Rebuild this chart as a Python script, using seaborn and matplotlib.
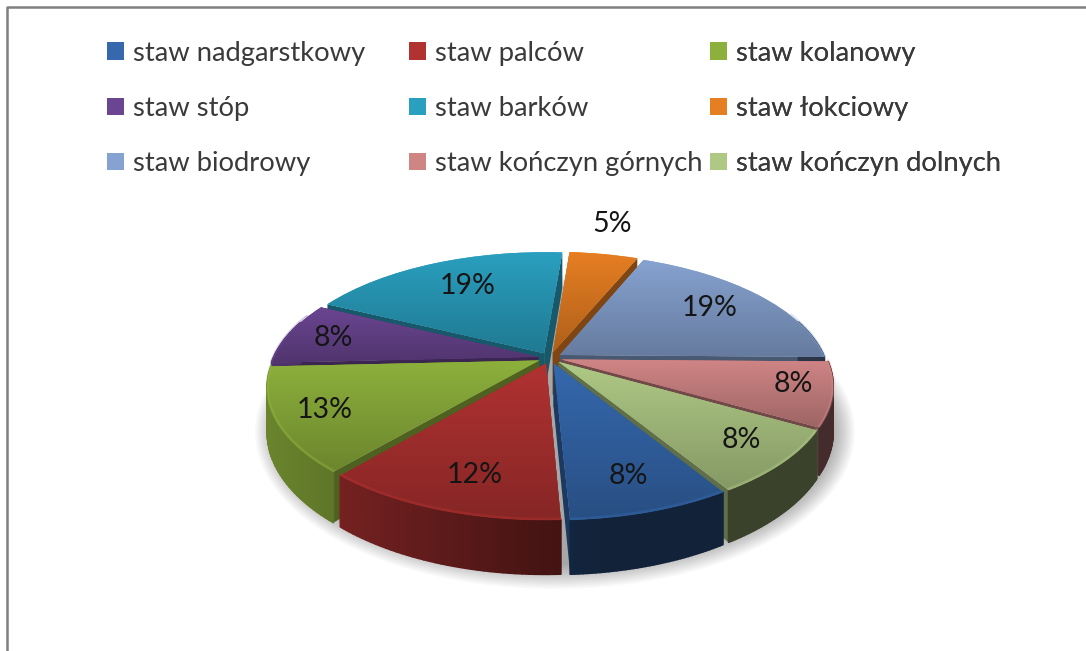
import numpy as np
import matplotlib
matplotlib.use("Agg")
import matplotlib.pyplot as plt
import seaborn as sns
from matplotlib.collections import PolyCollection
from matplotlib.patches import Ellipse, Patch, Polygon
from matplotlib.transforms import Transform

categories = ["staw nadgarstkowy", "staw palców", "staw kolanowy", "staw stóp", "staw barków",
              "staw łokciowy", "staw biodrowy", "staw kończyn górnych", "staw kończyn dolnych"]
values = [8, 12, 13, 8, 19, 5, 19, 8, 8]
hex_colors = ["#3568ad", "#b03231", "#8db03c", "#6a4591", "#2aa0c0", "#e67e22", "#86a2d0", "#d08585", "#afc985"]

# layout (pixels in the 1086x651 image)
W, H = 1086, 651
CX, CY, RX, RY, K, DEPTH = 550, 358, 265, 123, 0.2, 43
START = -58.5
EXPLODE = 0.045
label_px = [(628, 476), (475, 475), (325, 410), (333, 338), (468, 286),
            (612, 224), (710, 308), (793, 384), (741, 440)]


def project(u, v, d=0.0):
    u, v = np.asarray(u, float), np.asarray(v, float)
    s = 1 / (1 + K * v)
    return CX + RX * u * s, H - (CY - RY * v * s + d * s)


class Perspective(Transform):
    input_dims = output_dims = 2
    is_separable = False
    has_inverse = False

    def transform_non_affine(self, values):
        x, y = project(values[:, 0], values[:, 1])
        return np.column_stack([x, y])


sns.set_theme(style="white")
plt.rcParams["font.family"] = ["Lato", "DejaVu Sans"]
palette = sns.color_palette(hex_colors)

fig = plt.figure(figsize=(W / 100, H / 100), dpi=100, facecolor="white")
ax = fig.add_axes([0, 0, 1, 1])

# soft shadow under the pie
for i in range(16):
    ax.add_patch(Ellipse((555, H - 432), 2 * (300 - i * 1.6), 2 * (157 - i * 1.6),
                         fc="black", ec="none", alpha=0.022, zorder=1))

wedges, texts, autotexts = ax.pie(values, colors=palette, startangle=START, counterclock=False,
                                  explode=[EXPLODE] * len(values), autopct="%.0f%%",
                                  textprops={"fontsize": 20.5, "color": "#151515"})
persp = Perspective() + ax.transData

edges = START - np.cumsum([0] + values) * 3.6
mid_angle = np.radians((edges[:-1] + edges[1:]) / 2)
order = np.argsort(-np.sin(mid_angle))


def side_shade(x):
    return 0.75 - 0.42 * np.clip((x - 270) / 330, 0, 1)


for rank, i in enumerate(order):
    z = 3 + rank * 5
    col = np.array(palette[i])
    a0, a1 = np.radians(edges[i + 1]), np.radians(edges[i])
    ox = EXPLODE * np.cos(mid_angle[i])
    oy = EXPLODE * np.sin(mid_angle[i])
    th = np.linspace(a0, a1, 40)
    u, v = ox + np.cos(th), oy + np.sin(th)

    # cut faces from the apex to the two ends of the arc
    for t in (a0, a1):
        uu, vv = np.array([ox, ox + np.cos(t)]), np.array([oy, oy + np.sin(t)])
        x0, y0 = project(uu, vv)
        x1, y1 = project(uu, vv, DEPTH)
        ax.add_patch(Polygon(np.column_stack([np.r_[x0, x1[::-1]], np.r_[y0, y1[::-1]]]),
                             fc=col * 0.55, ec="none", zorder=z))

    # outer wall, shaded from left to right
    xt, yt = project(u, v)
    xb, yb = project(u, v, DEPTH)
    quads, cols = [], []
    for j in range(len(th) - 1):
        if np.sin(th[j]) + np.sin(th[j + 1]) < 0.6:
            quads.append([(xt[j], yt[j]), (xt[j + 1], yt[j + 1]), (xb[j + 1], yb[j + 1]), (xb[j], yb[j])])
            cols.append(col * side_shade((xt[j] + xt[j + 1]) / 2))
    if quads:
        ax.add_collection(PolyCollection(quads, facecolors=cols, edgecolors=cols, linewidths=1.2, zorder=z + 1))

    # top face with a vertical gradient clipped to the wedge
    w = wedges[i]
    w.set_transform(persp)
    w.set_zorder(z + 2)
    w.set_edgecolor("none")
    tverts = w.get_path().vertices
    px, py = project(tverts[:, 0], tverts[:, 1])
    grad = np.linspace(1.0, 0.76, 64)[:, None, None] * col[None, None, :]
    im = ax.imshow(grad, extent=(px.min(), px.max(), py.min(), py.max()), origin="upper",
                   aspect="auto", zorder=z + 3, interpolation="bilinear")
    im.set_clip_path(w)

    # soft highlight along the rim
    front = np.sin(th) < 0.35
    ax.plot(np.where(front, xt, np.nan), np.where(front, yt + 1, np.nan),
            color=tuple(np.minimum(col * 1.1, 1)), lw=2.0, alpha=0.3, zorder=z + 4,
            solid_capstyle="round")

# percentage labels
for t, (lx, ly) in zip(autotexts, label_px):
    t.set_position((lx, H - ly))
    t.set_ha("center")
    t.set_va("center")
    t.set_zorder(200)
for t in texts:
    t.set_visible(False)

# three legend columns, each anchored on its own
handles = [Patch(facecolor=c, edgecolor="none") for c in palette]
col_x = [101.5, 403.5, 704.5]
for c in range(3):
    idx = list(range(c, 9, 3))
    leg = ax.legend([handles[k] for k in idx], [categories[k] for k in idx],
                    loc="upper left", bbox_to_anchor=(col_x[c] / W, 1 - 35.5 / H),
                    frameon=False, fontsize=19.7, handlelength=0.62, handleheight=0.62,
                    handletextpad=0.33, labelspacing=1.10, borderpad=0.2, borderaxespad=0,
                    labelcolor="#3a3a3a")
    leg.set_zorder(210)
    ax.add_artist(leg)

# the chart frame, visible on the left and top only
ax.plot([7, 7, W + 5], [-5, H - 7, H - 7], color="#808080", lw=1.8, zorder=220, clip_on=True)

ax.set_aspect("auto")
ax.set_xlim(0, W)
ax.set_ylim(0, H)
ax.axis("off")
fig.savefig("out.png", dpi=100)
